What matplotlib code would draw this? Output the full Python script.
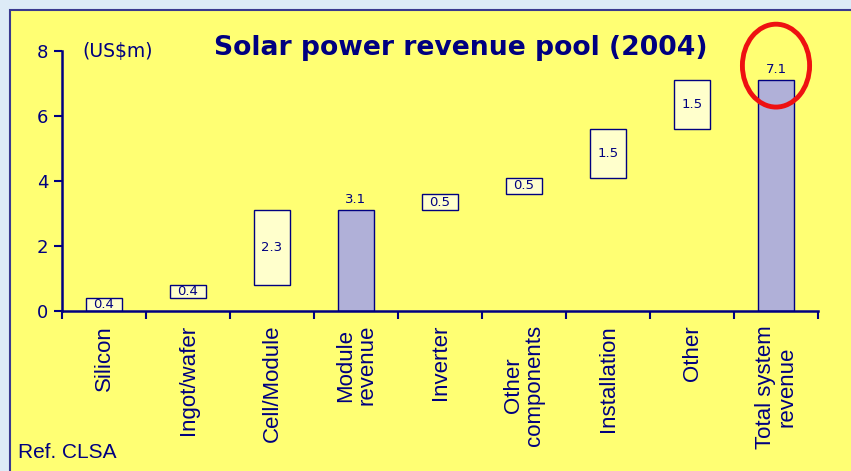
import matplotlib.pyplot as plt
from matplotlib.patches import Rectangle, Ellipse
import numpy as np

# Daten
kategorien = ['Silicon', 'Ingot/wafer', 'Cell/Module', 'Module\nrevenue', 'Inverter',
              'Other\ncomponents', 'Installation', 'Other', 'Total system\nrevenue']
werte = [0.4, 0.4, 2.3, 3.1, 0.5, 0.5, 1.5, 1.5, 7.1]
ist_summe = [False, False, False, True, False, False, False, False, True]
y_ticks = [0, 2, 4, 6, 8]

navy = '#000080'
gelb = '#FFFF73'
box_farbe = '#FFFFCC'
summe_farbe = '#B0B0D8'

fig = plt.figure(figsize=(8.51, 4.71), dpi=100)
fig.patch.set_facecolor('#DDEBF7')

# gelbes Panel mit Rahmen
panel = Rectangle((10 / 851, -0.05), 1.1, 1 - 10 / 471 + 0.05, transform=fig.transFigure,
                  facecolor=gelb, edgecolor='#3A3A90', linewidth=1.5, zorder=-10)
fig.patches.append(panel)

ax = fig.add_axes([62 / 851, 1 - 311 / 471, (818 - 62) / 851, (311 - 51) / 471])
ax.set_facecolor('none')

# Wasserfall-Boden berechnen
boeden = []
laufend = 0.0
for w, s in zip(werte, ist_summe):
    if s:
        boeden.append(0.0)
    else:
        boeden.append(laufend)
        laufend += w

x = np.arange(len(kategorien))
breite = 0.42
for xi, w, b, s in zip(x, werte, boeden, ist_summe):
    farbe = summe_farbe if s else box_farbe
    ax.bar(xi, w, bottom=b, width=breite, color=farbe, edgecolor=navy, linewidth=1, zorder=2)
    if s:
        ax.text(xi, b + w + 0.12, f'{w:.1f}', ha='center', va='bottom', fontsize=9.5, color=navy)
    else:
        ax.text(xi, b + w / 2, f'{w:.1f}', ha='center', va='center', fontsize=9.5, color=navy, zorder=3)

ax.set_xlim(-0.5, len(kategorien) - 0.5)
ax.set_ylim(0, 8)
ax.set_yticks(y_ticks)
ax.tick_params(axis='y', colors=navy, labelcolor=navy, labelsize=13, length=6, width=1.5, pad=4)

# Tickstriche an den Grenzen, Beschriftung in der Mitte
ax.set_xticks(np.arange(len(kategorien) + 1) - 0.5)
ax.set_xticklabels([])
ax.tick_params(axis='x', which='major', colors=navy, length=6, width=1.5)
ax.set_xticks(x, minor=True)
ax.set_xticklabels(kategorien, minor=True, rotation=90, va='top', ha='center',
                   multialignment='center', fontsize=16, color=navy,
                   family='Liberation Sans', linespacing=1.0)
ax.tick_params(axis='x', which='minor', length=0, pad=10)

for seite in ['top', 'right']:
    ax.spines[seite].set_visible(False)
for seite in ['left', 'bottom']:
    ax.spines[seite].set_color(navy)
    ax.spines[seite].set_linewidth(1.8)
    ax.spines[seite].set_zorder(4)

ax.text(-0.26, 8, '(US$m)', ha='left', va='center', fontsize=13.5, color=navy)
fig.text(461 / 851, 1 - 48 / 471, 'Solar power revenue pool (2004)', ha='center', va='center',
         fontsize=19.2, fontweight='bold', color=navy)
fig.text(18 / 851, 1 - 452 / 471, 'Ref. CLSA', ha='left', va='center', fontsize=15,
         family='Liberation Sans', color=navy)

# roter Kreis um die Summe
kreis = Ellipse((8, 7.55), 0.8, 2.55, fill=False, edgecolor='#EE1111', linewidth=3.5,
                zorder=5, clip_on=False)
ax.add_patch(kreis)

fig.savefig('out.png', dpi=100, facecolor=fig.get_facecolor())
